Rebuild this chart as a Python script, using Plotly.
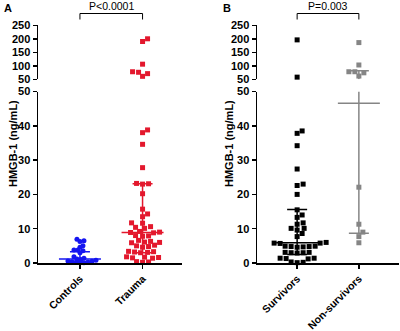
import plotly.graph_objects as go

# ---------------- data ----------------
groups_a = ["Controls", "Trauma"]
groups_b = ["Survivors", "Non-survivors"]

controls = [6.3, 6.5, 6.9, 5.0, 4.6, 3.8, 3.6, 3.8, 3.0, 1.8,
            1.4, 1.2, 1.0, 0.8, 0.6, 0.5, 0.4, 0.3,
            0.2, 0.1, 0.1]
trauma = [200, 190, 106, 78, 76, 71, 61,
          38.8, 38.0, 34.6, 27.8, 23.2, 23.1, 23.0, 20.2, 15.7, 14.3, 13.5,
          11.7, 11.6, 10.6, 10.4, 10.1, 9.2, 9.0, 8.9, 8.8, 8.0, 7.9, 7.8,
          6.6, 6.3, 6.1, 6.0, 5.9, 5.2, 5.0, 4.8, 4.6, 3.4, 3.3, 3.2, 3.1,
          3.0, 1.8, 1.7, 1.6, 1.5, 1.4, 0.4, 0.3, 0.2]
survivors = [196, 58, 38.5, 37.8, 34.2, 27.4, 23.0, 22.6, 20.0, 15.5, 14.0,
             13.3, 11.7, 11.3, 10.1, 9.6, 10.1, 8.6, 7.7, 6.0, 5.8, 5.8, 5.7,
             4.9, 4.8, 4.7, 4.8, 4.9, 4.6, 3.1, 3.0, 3.0, 2.9, 3.1, 1.4, 1.3,
             1.2, 1.4, 0.3, 0.2, 0.1]
nonsurvivors = [186, 103, 78, 74, 78, 62, 22.1, 11.3, 9.0, 7.7, 5.9]

# median, q1, q3 as drawn
stats_a = {"Controls": (1.2, 0.3, 3.3), "Trauma": (8.9, 3.0, 23.1)}
stats_b = {"Survivors": (5.9, 2.5, 15.6), "Non-survivors": (46.6, 8.7, 82.0)}

pvals = ["P<0.0001", "P=0.003"]

# ---------------- layout geometry ----------------
W, H = 400, 331
low_top_px, low_bot_px = 91.5, 263.0
up_top_px, up_bot_px = 25.3, 79.3
xa_dom = [38 / W, 182 / W]
xb_dom = [257 / W, 399 / W]
xa_rng = [-0.67, 1.63]
xb_rng = [-0.65, 1.65]


def ypx(v):
    if v <= 50:
        return low_bot_px - v * (low_bot_px - low_top_px) / 50
    return up_bot_px - (v - 50) * (up_bot_px - up_top_px) / 200


def swarm(vals, ppu, dmin=5.2, step=1.0):
    ys = [ypx(v) for v in vals]
    order = sorted(range(len(vals)), key=lambda i: -ys[i])
    placed, offs = [], [0.0] * len(vals)
    for i in order:
        k = 0
        while True:
            cands = [0.0] if k == 0 else [k * step, -k * step]
            ok = None
            for c in cands:
                if all((c - px) ** 2 + (ys[i] - py) ** 2 >= dmin ** 2 for px, py in placed):
                    ok = c
                    break
            if ok is not None:
                break
            k += 1
        offs[i] = ok
        placed.append((ok, ys[i]))
    return [o / ppu for o in offs]


ppu_a = (xa_dom[1] - xa_dom[0]) * W / (xa_rng[1] - xa_rng[0])
ppu_b = (xb_dom[1] - xb_dom[0]) * W / (xb_rng[1] - xb_rng[0])

fig = go.Figure()

RED = "#e3182d"
BLUE = "#1515f0"
BLACK = "#000000"
GRAY = "#858585"


def add_group(vals, pos, color, symbol, xax, ylow, yup, ppu, stats, dmin):
    offs = swarm(vals, ppu, dmin=dmin)
    lo = [(pos + o, v) for o, v in zip(offs, vals) if v <= 50]
    hi = [(pos + o, v) for o, v in zip(offs, vals) if v > 50]
    for pts, yax in ((lo, ylow), (hi, yup)):
        if pts:
            fig.add_trace(go.Scatter(
                x=[p[0] for p in pts], y=[p[1] for p in pts], mode="markers",
                xaxis=xax, yaxis=yax, cliponaxis=False, showlegend=False,
                marker=dict(color=color, size=5, symbol=symbol, line=dict(width=0))))
    med, q1, q3 = stats
    mw, cw = 21 / ppu, 10 / ppu
    for yax, lo_lim, hi_lim in ((ylow, 0, 50), (yup, 50, 250)):
        a, b = max(q1, lo_lim), min(q3, hi_lim)
        if a < b:
            fig.add_trace(go.Scatter(x=[pos, pos], y=[a, b], mode="lines", xaxis=xax, yaxis=yax,
                                     line=dict(color=color, width=1.5), showlegend=False))
        for val, hw in ((med, mw), (q1, cw), (q3, cw)):
            if lo_lim <= val <= hi_lim:
                fig.add_trace(go.Scatter(x=[pos - hw, pos + hw], y=[val, val], mode="lines",
                                         xaxis=xax, yaxis=yax, showlegend=False,
                                         line=dict(color=color, width=1.5)))


add_group(controls, 0, BLUE, "circle", "x", "y", "y2", ppu_a, stats_a["Controls"], 3.2)
add_group(trauma, 1, RED, "square", "x", "y", "y2", ppu_a, stats_a["Trauma"], 5.4)
add_group(survivors, 0, BLACK, "square", "x2", "y3", "y4", ppu_b, stats_b["Survivors"], 5.4)
add_group(nonsurvivors, 1, GRAY, "square", "x2", "y3", "y4", ppu_b, stats_b["Non-survivors"], 5.4)

FONT = "Arial, Liberation Sans, sans-serif"
tickfont = dict(family=FONT, size=11, color="black", weight="bold")
xtickfont = dict(family=FONT, size=10.5, color="black", weight="bold")
low_dom = [1 - low_bot_px / H, 1 - low_top_px / H]
up_dom = [1 - up_bot_px / H, 1 - up_top_px / H]

common_y = dict(showline=True, linecolor="black", linewidth=1.5, ticks="outside",
                ticklen=4, tickwidth=1.5, tickcolor="black", showgrid=False,
                zeroline=False, tickfont=tickfont, fixedrange=True, automargin=False)
common_x = dict(showline=True, linecolor="black", linewidth=1.5, ticks="outside",
                ticklen=4, tickwidth=1.5, tickcolor="black", showgrid=False,
                zeroline=False, tickfont=xtickfont, tickangle=-45, tickmode="array",
                tickvals=[0, 1], automargin=False, fixedrange=True)

fig.update_layout(
    template="none",
    width=W, height=H, margin=dict(l=0, r=0, t=0, b=0, autoexpand=False),
    paper_bgcolor="white", plot_bgcolor="rgba(0,0,0,0)", showlegend=False,
    xaxis=dict(common_x, domain=xa_dom, range=xa_rng, ticktext=groups_a, anchor="y"),
    xaxis2=dict(common_x, domain=xb_dom, range=xb_rng, ticktext=groups_b, anchor="y3"),
    yaxis=dict(common_y, domain=low_dom, range=[0, 50], dtick=10, anchor="x"),
    yaxis2=dict(common_y, domain=up_dom, range=[50, 250], dtick=50, anchor="x"),
    yaxis3=dict(common_y, domain=low_dom, range=[0, 50], dtick=10, anchor="x2"),
    yaxis4=dict(common_y, domain=up_dom, range=[50, 250], dtick=50, anchor="x2"),
)

# y titles and panel letters
titlefont = dict(family=FONT, size=11, color="black", weight="bold")
for xp in (13, 229):
    fig.add_annotation(text="HMGB-1 (ng/mL)", textangle=-90, x=xp / W, y=1 - 144 / H,
                       xref="paper", yref="paper", showarrow=False, font=titlefont,
                       xanchor="center", yanchor="middle")
for lab, xp in (("A", 8), ("B", 227)):
    fig.add_annotation(text=lab, x=xp / W, y=1 - 8 / H, xref="paper", yref="paper",
                       showarrow=False, font=dict(family=FONT, size=11, color="black", weight="bold"),
                       xanchor="center", yanchor="middle")

# significance brackets
yb = 1 - 13.5 / H
yl = 1 - 19.5 / H
for xr, pv in (("x", pvals[0]), ("x2", pvals[1])):
    fig.add_shape(type="path", xref=xr, yref="paper",
                  path=f"M 0 {yl} L 0 {yb} L 1 {yb} L 1 {yl}",
                  line=dict(color="black", width=1))
    fig.add_annotation(text=pv, x=0.5, y=1 - 6 / H, xref=xr, yref="paper", showarrow=False,
                       font=dict(family=FONT, size=10.5, color="black"),
                       xanchor="center", yanchor="middle")

fig.write_html("out.html", config={"displayModeBar": False, "staticPlot": True},
               post_script="document.body.style.margin='0';document.body.style.overflow='hidden';")
